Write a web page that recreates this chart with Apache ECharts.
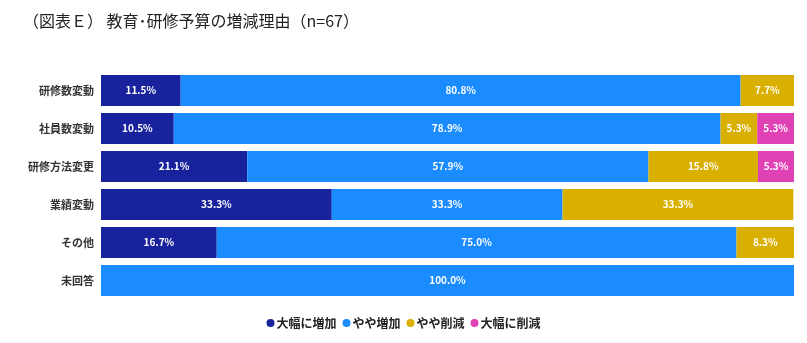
<!DOCTYPE html>
<html><head><meta charset="utf-8">
<script src="https://cdn.jsdelivr.net/npm/echarts@6/dist/echarts.min.js"></script>
<style>html,body{margin:0;padding:0;background:#fff}#c{width:807px;height:343px}</style>
</head><body><div id="c"></div>
<script>
const categories = ['研修数変動','社員数変動','研修方法変更','業績変動','その他','未回答'];
const seriesNames = ['大幅に増加','やや増加','やや削減','大幅に削減'];
const bigIncrease = [11.5, 10.5, 21.1, 33.3, 16.7, 0];
const smallIncrease = [80.8, 78.9, 57.9, 33.3, 75.0, 100.0];
const smallDecrease = [7.7, 5.3, 15.8, 33.3, 8.3, 0];
const bigDecrease = [0, 5.3, 5.3, 0, 0, 0];
const colors = ['#18229c','#1a8cff','#d9b000','#e041b4'];
const font = '"Noto Sans CJK JP", "Noto Sans", sans-serif';
const dataSets = [bigIncrease, smallIncrease, smallDecrease, bigDecrease];
const chart = echarts.init(document.getElementById('c'));
chart.setOption({
  animation:false,
  title:{text:'（図表Ｅ） 教育･研修予算の増減理由（n=67）',left:18,top:8,
    textStyle:{fontFamily:font,fontSize:16,fontWeight:'normal',color:'#222'}},
  legend:{bottom:9,left:'center',icon:'circle',itemWidth:8,itemHeight:8,itemGap:6,
    textStyle:{fontFamily:font,fontSize:12,fontWeight:'bold',color:'#222',padding:[0,0,0,-3]}},
  grid:{left:101,right:13,top:71.5,height:228,containLabel:false},
  xAxis:{type:'value',min:0,max:100,show:false},
  yAxis:{type:'category',data:categories,inverse:true,
    axisLine:{show:false},axisTick:{show:false},
    axisLabel:{fontFamily:font,fontSize:11,fontWeight:'bold',color:'#333',margin:7}},
  series: seriesNames.map((n,i)=>({
    name:n,type:'bar',stack:'s',barCategoryGap:'18%',
    data:dataSets[i],
    itemStyle:{color:colors[i]},
    label:{show:true,position:'inside',color:'#fff',fontFamily:font,fontSize:10,fontWeight:'bold',
      formatter:p=>p.value>0?p.value.toFixed(1)+'%':''}
  }))
});
</script></body></html>
